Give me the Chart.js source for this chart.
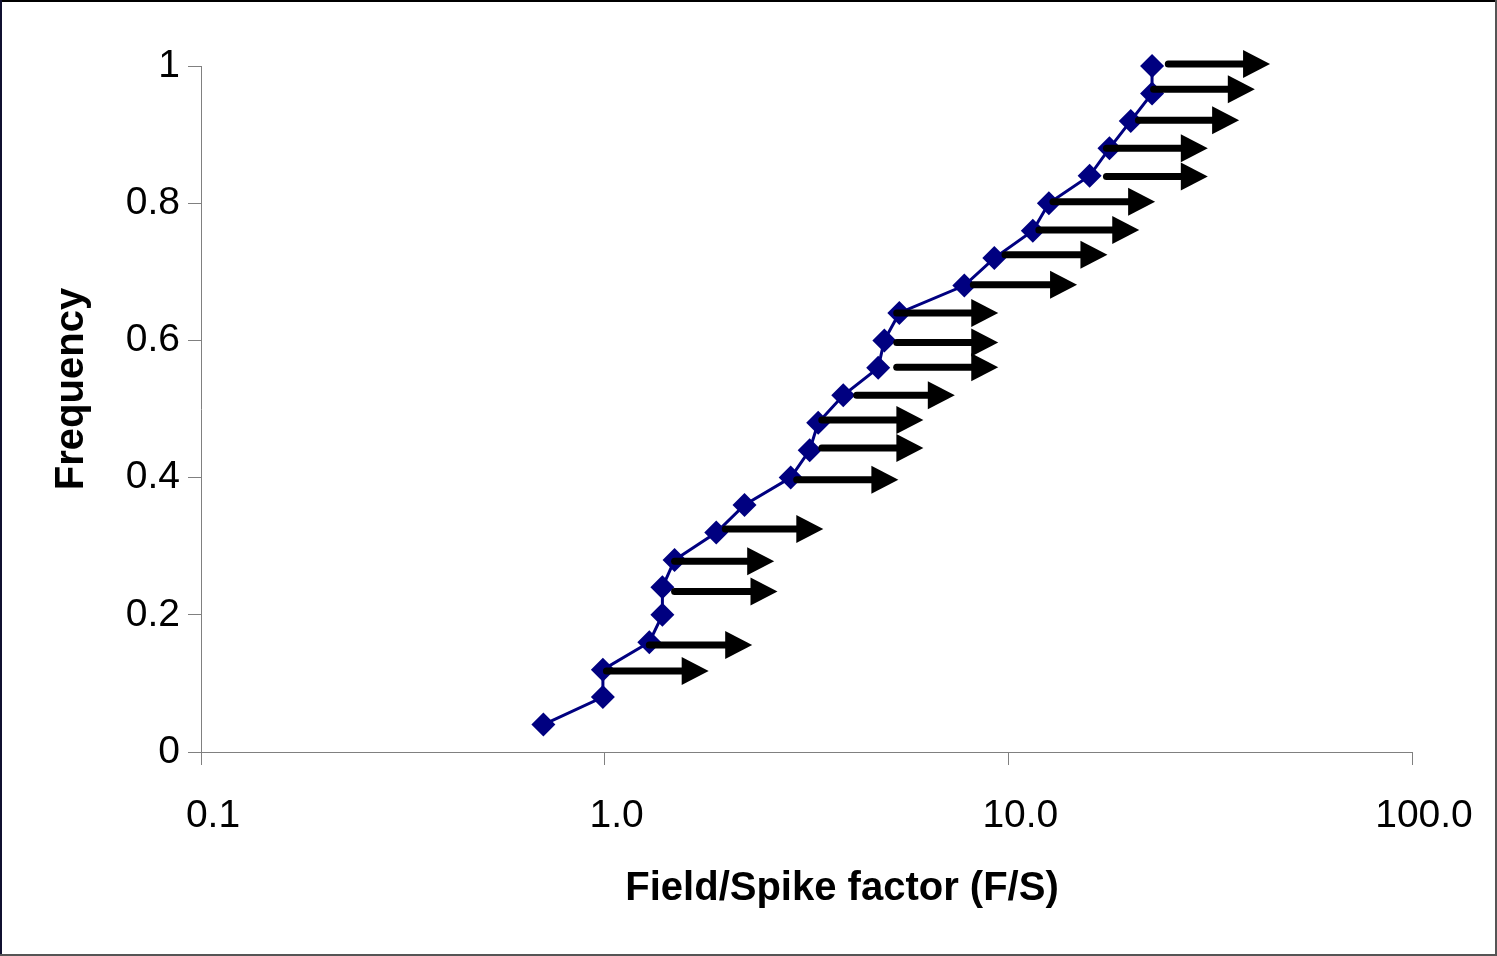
<!DOCTYPE html>
<html>
<head>
<meta charset="utf-8">
<script src="https://cdn.jsdelivr.net/npm/chart.js@4/dist/chart.umd.min.js"></script>
<style>
  html, body { margin: 0; padding: 0; background: #fff; }
  canvas { display: block; }
</style>
</head>
<body>
<canvas id="chart" width="1497" height="956"></canvas>
<script>
// cumulative frequency of field/spike factors
const factors = [0.705, 0.99, 0.99, 1.29, 1.39, 1.39, 1.49, 1.89, 2.22, 2.89, 3.22, 3.38, 3.90, 4.76, 4.93, 5.37, 7.78, 9.23, 11.5, 12.6, 15.9, 17.8, 20.1, 22.7, 22.7];
const frequencies = [0.04, 0.08, 0.12, 0.16, 0.20, 0.24, 0.28, 0.32, 0.36, 0.40, 0.44, 0.48, 0.52, 0.56, 0.60, 0.64, 0.68, 0.72, 0.76, 0.80, 0.84, 0.88, 0.92, 0.96, 1.00];

const xTickValues = [0.1, 1, 10, 100];
const xTickLabels = ['0.1', '1.0', '10.0', '100.0'];
const yTickValues = [0, 0.2, 0.4, 0.6, 0.8, 1];
const yTickLabels = ['0', '0.2', '0.4', '0.6', '0.8', '1'];

// arrows (values are lower bounds, pointing right)
const arrowFreq = [0.118, 0.156, 0.234, 0.278, 0.325, 0.397, 0.443, 0.484, 0.520, 0.561, 0.597, 0.640, 0.681, 0.725, 0.761, 0.802, 0.839, 0.880, 0.921, 0.966, 1.003];
const arrowFrom = [1.01, 1.29, 1.49, 1.49, 1.99, 2.99, 3.45, 3.45, 4.21, 5.29, 5.29, 5.29, 8.19, 9.81, 11.9, 12.9, 17.5, 17.5, 21.0, 22.9, 24.9];
const arrowTo = [1.81, 2.32, 2.68, 2.63, 3.48, 5.34, 6.16, 6.16, 7.37, 9.44, 9.44, 9.44, 14.8, 17.6, 21.1, 23.1, 31.2, 31.2, 37.3, 40.8, 44.5];

const xTitle = 'Field/Spike factor (F/S)';
const yTitle = 'Frequency';

const FONT = '"Liberation Sans", Arial, sans-serif';
const AXIS_GREY = '#808080';

const decor = {
  id: 'decor',
  beforeDraw(chart) {
    const ctx = chart.ctx;
    ctx.save();
    ctx.fillStyle = '#fff';
    ctx.fillRect(0, 0, chart.width, chart.height);
    ctx.restore();
  },
  afterDatasetsDraw(chart) {
    const { ctx, scales: { x, y } } = chart;
    ctx.save();
    ctx.fillStyle = '#000';
    ctx.strokeStyle = '#000';
    ctx.lineWidth = 7;
    ctx.lineCap = 'round';
    const headLen = 27, headHalf = 14;
    for (let i = 0; i < arrowFreq.length; i++) {
      const py = y.getPixelForValue(arrowFreq[i]);
      const x0 = x.getPixelForValue(arrowFrom[i]);
      const x1 = x.getPixelForValue(arrowTo[i]);
      ctx.beginPath();
      ctx.moveTo(x0, py);
      ctx.lineTo(x1 - headLen + 2, py);
      ctx.stroke();
      ctx.beginPath();
      ctx.moveTo(x1, py);
      ctx.lineTo(x1 - headLen, py - headHalf);
      ctx.lineTo(x1 - headLen, py + headHalf);
      ctx.closePath();
      ctx.fill();
    }
    ctx.restore();
  },
  afterDraw(chart) {
    const { ctx } = chart;
    ctx.save();
    ctx.fillStyle = '#000';
    ctx.font = 'bold 40px ' + FONT;
    ctx.textAlign = 'center';
    ctx.textBaseline = 'alphabetic';
    ctx.fillText(xTitle, 842, 900);
    ctx.translate(83, 389);
    ctx.rotate(-Math.PI / 2);
    ctx.fillText(yTitle, 0, 0);
    ctx.restore();

    // outer frame
    ctx.save();
    ctx.lineWidth = 2;
    ctx.strokeStyle = '#000';
    ctx.beginPath(); ctx.moveTo(0, 1); ctx.lineTo(chart.width, 1); ctx.stroke();
    ctx.strokeStyle = '#101030';
    ctx.beginPath(); ctx.moveTo(1, 0); ctx.lineTo(1, chart.height); ctx.stroke();
    ctx.strokeStyle = '#555';
    ctx.beginPath(); ctx.moveTo(chart.width - 1, 0); ctx.lineTo(chart.width - 1, chart.height); ctx.stroke();
    ctx.beginPath(); ctx.moveTo(0, chart.height - 1); ctx.lineTo(chart.width, chart.height - 1); ctx.stroke();
    ctx.restore();
  }
};

new Chart(document.getElementById('chart'), {
  type: 'scatter',
  data: {
    datasets: [{
      data: factors.map((f, i) => ({ x: f, y: frequencies[i] })),
      showLine: true,
      clip: false,
      borderColor: '#000080',
      borderWidth: 3,
      backgroundColor: '#000080',
      pointStyle: 'rectRot',
      pointRadius: 12,
      pointBorderWidth: 0,
      pointBackgroundColor: '#000080',
      tension: 0,
    }],
  },
  options: {
    responsive: false,
    animation: false,
    layout: { padding: { left: 0, top: 66, right: 85, bottom: 0 } },
    plugins: { legend: { display: false }, tooltip: { enabled: false } },
    scales: {
      x: {
        type: 'logarithmic',
        min: 0.1, max: 100,
        afterFit: s => { s.height = 204; },
        afterBuildTicks: s => { s.ticks = xTickValues.map(v => ({ value: v })); },
        ticks: {
          callback: (v) => xTickLabels[xTickValues.indexOf(v)] ?? '',
          font: { family: FONT, size: 39 }, color: '#000',
          padding: 28, labelOffset: 12, maxRotation: 0, autoSkip: false,
        },
        grid: { drawOnChartArea: false, drawTicks: true, tickLength: 13, color: AXIS_GREY, lineWidth: 1 },
        border: { display: true, color: AXIS_GREY, width: 1 },
      },
      y: {
        min: 0, max: 1,
        afterFit: s => { s.width = 201; },
        afterBuildTicks: s => { s.ticks = yTickValues.map(v => ({ value: v })); },
        ticks: {
          callback: (v) => yTickLabels[yTickValues.indexOf(v)] ?? '',
          font: { family: FONT, size: 39 }, color: '#000',
          padding: 8,
        },
        grid: { drawOnChartArea: false, drawTicks: true, tickLength: 13, color: AXIS_GREY, lineWidth: 1 },
        border: { display: true, color: AXIS_GREY, width: 1 },
      },
    },
  },
  plugins: [decor],
});
</script>
</body>
</html>
